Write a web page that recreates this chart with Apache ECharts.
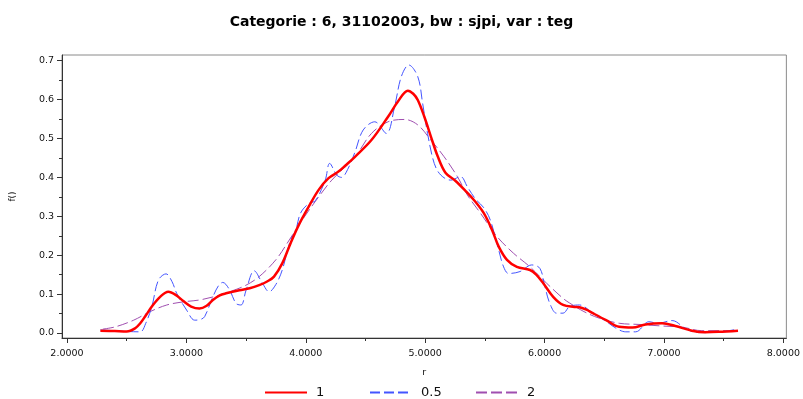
<!DOCTYPE html>
<html>
<head>
<meta charset="utf-8">
<title>Categorie : 6, 31102003, bw : sjpi, var : teg</title>
<script src="https://cdn.jsdelivr.net/npm/echarts@6/dist/echarts.min.js"></script>
<style>
  html, body { margin: 0; padding: 0; background: #fff; }
  #chart { width: 803px; height: 399px; }
</style>
</head>
<body>
<div id="chart"></div>
<script>
// Kernel density estimates f(r) for three bandwidth multipliers

// bandwidth 1 (solid red)
const r1 = [2.28, 2.40, 2.50, 2.57, 2.614, 2.66, 2.711, 2.78, 2.849, 2.91, 2.974, 3.04, 3.11, 3.17, 3.222, 3.28, 3.333, 3.444, 3.53, 3.61, 3.68, 3.734, 3.803, 3.873, 3.942, 4.025, 4.108, 4.191, 4.274, 4.33, 4.412, 4.55, 4.689, 4.772, 4.855, 4.90, 4.938, 4.993, 5.048, 5.104, 5.17, 5.25, 5.339, 5.408, 5.491, 5.56, 5.616, 5.685, 5.768, 5.878, 5.93, 5.989, 6.072, 6.155, 6.25, 6.293, 6.35, 6.404, 6.515, 6.625, 6.736, 6.846, 6.985, 7.095, 7.234, 7.344, 7.455, 7.62];
const f1 = [0.006, 0.005, 0.004, 0.012, 0.025, 0.045, 0.068, 0.093, 0.106, 0.098, 0.082, 0.068, 0.063, 0.070, 0.085, 0.097, 0.102, 0.110, 0.115, 0.123, 0.133, 0.145, 0.179, 0.231, 0.278, 0.325, 0.368, 0.398, 0.415, 0.430, 0.453, 0.496, 0.556, 0.595, 0.623, 0.615, 0.599, 0.556, 0.505, 0.455, 0.412, 0.392, 0.365, 0.342, 0.308, 0.265, 0.222, 0.188, 0.170, 0.162, 0.150, 0.128, 0.093, 0.072, 0.067, 0.066, 0.060, 0.051, 0.033, 0.016, 0.014, 0.022, 0.025, 0.018, 0.006, 0.002, 0.003, 0.006];

// bandwidth 0.5 (dashed blue)
const r05 = [2.28, 2.40, 2.50, 2.614, 2.66, 2.711, 2.766, 2.83, 2.88, 2.919, 3.002, 3.07, 3.12, 3.153, 3.222, 3.27, 3.305, 3.36, 3.416, 3.458, 3.5, 3.568, 3.637, 3.693, 3.75, 3.803, 3.873, 3.914, 3.956, 4.025, 4.08, 4.163, 4.20, 4.26, 4.30, 4.35, 4.412, 4.481, 4.578, 4.675, 4.744, 4.80, 4.863, 4.938, 4.979, 5.02, 5.076, 5.131, 5.214, 5.297, 5.353, 5.42, 5.491, 5.546, 5.616, 5.657, 5.699, 5.795, 5.892, 5.961, 6.003, 6.044, 6.1, 6.155, 6.21, 6.293, 6.404, 6.515, 6.60, 6.68, 6.763, 6.874, 6.95, 7.068, 7.178, 7.261, 7.372, 7.50, 7.62];
const f05 = [0.008, 0.006, 0.004, 0.003, 0.025, 0.068, 0.136, 0.152, 0.132, 0.102, 0.059, 0.033, 0.035, 0.042, 0.093, 0.122, 0.130, 0.112, 0.076, 0.072, 0.110, 0.160, 0.128, 0.106, 0.125, 0.162, 0.240, 0.262, 0.308, 0.333, 0.340, 0.393, 0.436, 0.406, 0.400, 0.420, 0.465, 0.522, 0.543, 0.513, 0.582, 0.659, 0.689, 0.659, 0.590, 0.513, 0.436, 0.406, 0.393, 0.402, 0.376, 0.345, 0.322, 0.290, 0.213, 0.170, 0.153, 0.158, 0.175, 0.166, 0.119, 0.076, 0.051, 0.051, 0.068, 0.072, 0.051, 0.030, 0.012, 0.003, 0.003, 0.029, 0.025, 0.032, 0.012, 0.002, 0.001, 0.004, 0.010];

// bandwidth 2 (dashed purple)
const r2 = [2.30, 2.407, 2.559, 2.697, 2.836, 2.974, 3.112, 3.25, 3.38, 3.5, 3.61, 3.749, 3.845, 3.969, 4.108, 4.218, 4.412, 4.55, 4.689, 4.827, 4.938, 5.048, 5.159, 5.27, 5.353, 5.463, 5.602, 5.74, 5.878, 6.017, 6.155, 6.21, 6.33, 6.459, 6.625, 6.791, 6.985, 7.151, 7.317, 7.483, 7.62];
const f2 = [0.010, 0.016, 0.033, 0.055, 0.072, 0.080, 0.085, 0.095, 0.108, 0.123, 0.145, 0.188, 0.231, 0.290, 0.350, 0.393, 0.453, 0.513, 0.543, 0.549, 0.535, 0.496, 0.453, 0.402, 0.355, 0.308, 0.248, 0.205, 0.170, 0.128, 0.089, 0.077, 0.055, 0.038, 0.025, 0.022, 0.018, 0.015, 0.006, 0.006, 0.006];

// axis ticks and labels
const xMajor = [2, 3, 4, 5, 6, 7, 8];
const xMinor = [2.5, 3.5, 4.5, 5.5, 6.5, 7.5];
const yMajor = [0, 0.1, 0.2, 0.3, 0.4, 0.5, 0.6, 0.7];
const yMinor = [0.05, 0.15, 0.25, 0.35, 0.45, 0.55, 0.65];
const legendNames = ['1', '0.5', '2'];

const pairs = (xs, ys) => xs.map((x, i) => [x, ys[i]]);

const FONT = 'DejaVu Sans';
const chart = echarts.init(document.getElementById('chart'), null, { renderer: 'canvas' });

const xBase = {
  type: 'value', min: 1.9585, max: 8.025, gridIndex: 0, position: 'bottom',
  splitLine: { show: false }
};
const yBase = {
  type: 'value', min: -0.01285, max: 0.7147, gridIndex: 0, position: 'left',
  splitLine: { show: false }
};

chart.setOption({
  animation: false,
  backgroundColor: '#ffffff',
  title: {
    text: 'Categorie : 6, 31102003, bw : sjpi, var : teg',
    left: 'center', top: 10,
    textStyle: { fontFamily: FONT, fontSize: 14, fontWeight: 'bold', color: '#000' }
  },
  legend: [
    { data: [legendNames[0]], left: 259, top: 381 },
    { data: [legendNames[1]], left: 364, top: 381 },
    { data: [legendNames[2]], left: 470, top: 381 }
  ].map(l => Object.assign(l, {
    itemWidth: 42, itemHeight: 10, selectedMode: false,
    itemStyle: { opacity: 0 },
    textStyle: { fontFamily: FONT, fontSize: 13, color: '#111', padding: [0, 0, 0, 4] }
  })),
  grid: {
    left: 61, right: 11, top: 55, bottom: 61,
    show: true, borderColor: '#8a8a8a', borderWidth: 1
  },
  xAxis: [
    Object.assign({}, xBase, {
      name: 'r', nameLocation: 'middle', nameGap: 30,
      nameTextStyle: { fontFamily: FONT, fontSize: 9.5, color: '#111' },
      axisLine: { show: true, onZero: false, lineStyle: { color: '#333', width: 1 } },
      axisTick: { show: true, length: 5, customValues: xMajor, lineStyle: { color: '#333' } },
      axisLabel: {
        show: true, customValues: xMajor, margin: 11,
        fontFamily: FONT, fontSize: 9.5, color: '#111',
        formatter: v => v.toFixed(4)
      }
    }),
    Object.assign({}, xBase, {
      axisLine: { show: false, onZero: false },
      axisTick: { show: true, length: 3, customValues: xMinor, lineStyle: { color: '#333' } },
      axisLabel: { show: false }
    })
  ],
  yAxis: [
    Object.assign({}, yBase, {
      name: 'f()', nameLocation: 'middle', nameGap: 45, nameRotate: 90,
      nameTextStyle: { fontFamily: FONT, fontSize: 9, color: '#111' },
      axisLine: { show: true, onZero: false, lineStyle: { color: '#333', width: 1 } },
      axisTick: { show: true, length: 5, customValues: yMajor, lineStyle: { color: '#333' } },
      axisLabel: {
        show: true, customValues: yMajor, margin: 8,
        fontFamily: FONT, fontSize: 9.5, color: '#111',
        formatter: v => v.toFixed(1)
      }
    }),
    Object.assign({}, yBase, {
      axisLine: { show: false, onZero: false },
      axisTick: { show: true, length: 3, customValues: yMinor, lineStyle: { color: '#333' } },
      axisLabel: { show: false }
    })
  ],
  series: [
    {
      name: legendNames[2], type: 'line', xAxisIndex: 0, yAxisIndex: 0,
      data: pairs(r2, f2), symbol: 'none', smooth: 0.35, z: 2,
      lineStyle: { color: '#a04fb0', width: 1, type: [11, 4] },
      itemStyle: { color: '#a04fb0' }
    },
    {
      name: legendNames[1], type: 'line', xAxisIndex: 0, yAxisIndex: 0,
      data: pairs(r05, f05), symbol: 'none', smooth: 0.35, z: 3,
      lineStyle: { color: '#4455ff', width: 1, type: [10, 4] },
      itemStyle: { color: '#4455ff' }
    },
    {
      name: legendNames[0], type: 'line', xAxisIndex: 0, yAxisIndex: 0,
      data: pairs(r1, f1), symbol: 'none', smooth: 0.35, z: 4,
      lineStyle: { color: '#ff0000', width: 2.5 },
      itemStyle: { color: '#ff0000' }
    }
  ]
});
</script>
</body>
</html>
